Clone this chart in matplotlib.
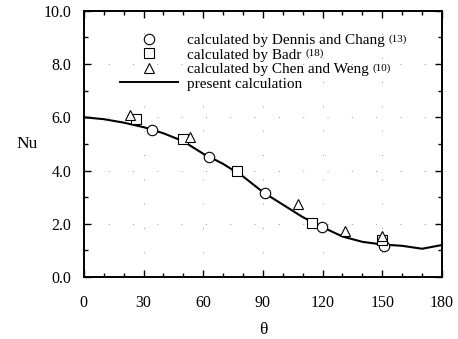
import matplotlib
matplotlib.use("Agg")
import matplotlib.pyplot as plt
from matplotlib.lines import Line2D
from matplotlib.ticker import MultipleLocator

plt.rcParams["font.family"] = ["Liberation Serif", "DejaVu Serif"]

# Local Nusselt number around the cylinder
theta_present = [0, 10, 20, 30, 40, 50, 60, 70, 80, 90, 100, 110, 120, 130, 140, 150, 160, 170, 180]
nu_present = [6.00, 5.93, 5.80, 5.63, 5.40, 5.10, 4.63, 4.25, 3.78, 3.19, 2.72, 2.25, 1.87, 1.52, 1.32, 1.22, 1.17, 1.06, 1.20]

theta_dennis = [34.2, 62.8, 91.0, 119.6, 150.8]
nu_dennis = [5.53, 4.51, 3.14, 1.88, 1.17]

theta_badr = [26.1, 49.7, 76.9, 114.6, 149.7]
nu_badr = [5.94, 5.19, 3.98, 2.03, 1.39]

theta_chen = [23.1, 53.3, 107.5, 131.2, 149.7]
nu_chen = [6.07, 5.27, 2.74, 1.73, 1.54]

labels = [
    "calculated by Dennis and Chang",
    "calculated by Badr",
    "calculated by Chen and Weng",
    "present calculation",
]
refs = ["(13)", "(18)", "(10)", None]

yticks = [0, 2, 4, 6, 8, 10]
ytick_labels = ["0.0", "2.0", "4.0", "6.0", "8.0", "10.0"]

fig = plt.figure(figsize=(4.58, 3.39), dpi=100)
ax = fig.add_axes([0.183, 0.183, 0.782, 0.785])

mk = dict(linestyle="none", markerfacecolor="white", markeredgecolor="black",
          markeredgewidth=0.8, zorder=3)

ax.plot(theta_present, nu_present, color="black", lw=1.5, zorder=2)
ax.plot(theta_dennis, nu_dennis, marker="o", markersize=7.5, **mk)
ax.plot(theta_badr, nu_badr, marker="s", markersize=6.5, **mk)
ax.plot(theta_chen, nu_chen, marker="^", markersize=7, **mk)

ax.set_xlim(0, 180)
ax.set_ylim(0, 10)
ax.xaxis.set_major_locator(MultipleLocator(30))
ax.xaxis.set_minor_locator(MultipleLocator(10))
ax.yaxis.set_minor_locator(MultipleLocator(1))
ax.set_yticks(yticks)
ax.set_yticklabels(ytick_labels)

ax.tick_params(which="both", direction="in", top=True, right=True, width=1.0, labelsize=11.5)
ax.tick_params(which="major", length=5)
ax.tick_params(which="minor", length=3)
ax.tick_params(axis="x", pad=13)
ax.tick_params(axis="y", pad=9)
for s in ax.spines.values():
    s.set_linewidth(1.4)

ax.grid(True, which="major", color="0.6", lw=0.7, linestyle=(0, (1, 24)))

ax.set_xlabel("θ", fontsize=12.5, labelpad=8)
ax.set_ylabel("Nu", fontsize=12.5, rotation=0, labelpad=12, va="center")

handles = [
    Line2D([], [], marker="o", markersize=7.5, **mk),
    Line2D([], [], marker="s", markersize=6.5, **mk),
    Line2D([], [], marker="^", markersize=7, **mk),
    Line2D([], [], color="black", lw=1.4),
]
leg = ax.legend(handles, labels, loc="upper left", bbox_to_anchor=(0.1, 0.915),
                frameon=False, fontsize=11, handlelength=3.8, handletextpad=0.6,
                labelspacing=0.05, borderaxespad=0, borderpad=0)

# reference numbers set as superscripts after each legend entry
# (drawn after the legend so the entry positions are final)
for txt, ref in zip(leg.get_texts(), refs):
    if ref:
        ax.annotate(ref, xy=(1, 1), xycoords=txt, xytext=(3, 0),
                    textcoords="offset points", fontsize=8, ha="left",
                    va="top", zorder=10)

fig.savefig("out.png", dpi=100)
